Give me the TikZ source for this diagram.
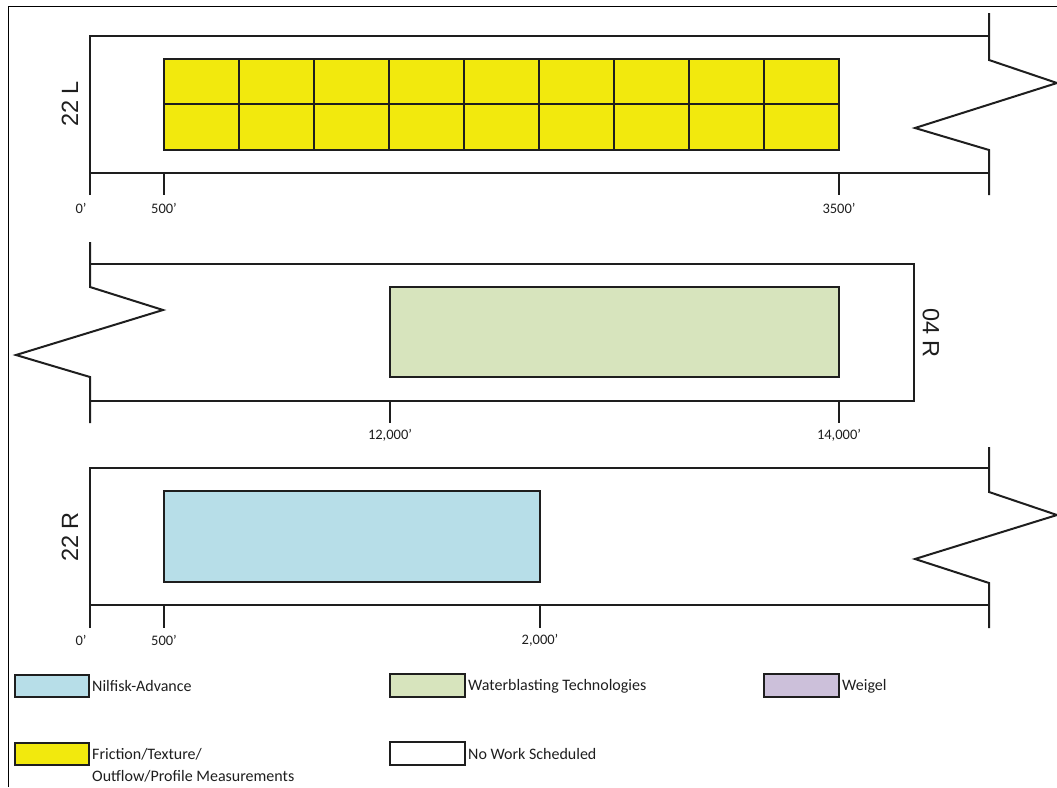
\documentclass[tikz,border=0pt]{standalone}
\usepackage{fontspec}
\setmainfont{Carlito}
\newfontfamily\arialf{Liberation Sans}
\definecolor{yel}{RGB}{242,233,13}
\definecolor{blu}{RGB}{183,222,232}
\definecolor{grn}{RGB}{215,228,189}
\definecolor{pur}{RGB}{204,192,218}
\definecolor{ink}{RGB}{30,30,30}
\begin{document}
\begin{tikzpicture}[x=1pt,y=-1pt,
  rw/.style={draw=ink,line width=2pt},
  area/.style={draw=ink,line width=1.4pt},
  lgbox/.style={draw=ink,line width=1.7pt},
  tick/.style={font=\fontsize{14.5}{17}\selectfont,text=ink,inner sep=0pt},
  lgtext/.style={font=\fontsize{16}{20}\selectfont,text=ink,inner sep=0pt,anchor=west,align=left},
  rwname/.style={font=\arialf\fontsize{23.5}{26}\selectfont,text=ink,inner sep=0pt}]
\useasboundingbox (0,0) rectangle (1057,787);
% outer frame
\draw[line width=1pt] (8,787) -- (8,6.5) -- (1057,6.5);

% ---------- Runway 22 L ----------
\foreach \i in {0,...,8}{
  \draw[area,fill=yel] ({164+75*\i},59) rectangle ++(75,45);
  \draw[area,fill=yel] ({164+75*\i},104) rectangle ++(75,46);
}
\draw[rw] (90,195) -- (90,36) -- (989,36);
\draw[rw] (90,173) -- (989,173);
\draw[rw,line join=miter] (989,13) -- (989,60) -- (1057,83) -- (915,128) -- (989,150) -- (989,195);
\draw[rw] (164,173) -- (164,195);
\draw[rw] (839,173) -- (839,195);
\node[tick] (t1a) at (81,208) {0'};
\node[tick] (t1b) at (164,208) {500'};
\node[tick] (t1c) at (839,208) {3500'};
\node[rwname,rotate=90] (n22l) at (70,104) {22 L};

% ---------- Runway 04 R ----------
\draw[area,fill=grn] (390,287) rectangle (839,377);
\draw[rw] (90,264) -- (914,264) -- (914,401) -- (90,401);
\draw[rw,line join=miter] (90,242) -- (90,287) -- (163,310) -- (16,355) -- (90,377) -- (90,423);
\draw[rw] (390,401) -- (390,423);
\draw[rw] (839,401) -- (839,423);
\node[tick] (t2a) at (390,435) {12,000'};
\node[tick] (t2b) at (839,435) {14,000'};
\node[rwname,rotate=-90] (n04r) at (931,333) {04 R};

% ---------- Runway 22 R ----------
\draw[area,fill=blu] (164,491) rectangle (540,582);
\draw[rw] (90,628) -- (90,468) -- (989,468);
\draw[rw] (90,605) -- (989,605);
\draw[rw,line join=miter] (989,447) -- (989,492) -- (1057,515) -- (915,559) -- (989,583) -- (989,628);
\draw[rw] (164,605) -- (164,628);
\draw[rw] (540,605) -- (540,628);
\node[tick] (t3a) at (81,640) {0'};
\node[tick] (t3b) at (164,640) {500'};
\node[tick] (t3c) at (540,640) {2,000'};
\node[rwname,rotate=90] (n22r) at (70,537) {22 R};

% ---------- Legend ----------
\draw[lgbox,fill=blu] (15,675) rectangle (89,697);
\node[lgtext] (l1) at (92,686) {Nilfisk-Advance};
\draw[lgbox,fill=grn] (390,674) rectangle (465,697);
\node[lgtext] (l2) at (468,686) {Waterblasting Technologies};
\draw[lgbox,fill=pur] (764,674) rectangle (839,697);
\node[lgtext] (l3) at (842,686) {Weigel};
\draw[lgbox,fill=yel] (15,743) rectangle (89,765);
\node[lgtext,anchor=north west] (l4) at (92,748) {Friction/Texture/\\[2.5pt]Outflow/Profile Measurements};
\draw[lgbox,fill=white] (390,742) rectangle (465,765);
\node[lgtext] (l5) at (468,754) {No Work Scheduled};
\end{tikzpicture}
\end{document}
